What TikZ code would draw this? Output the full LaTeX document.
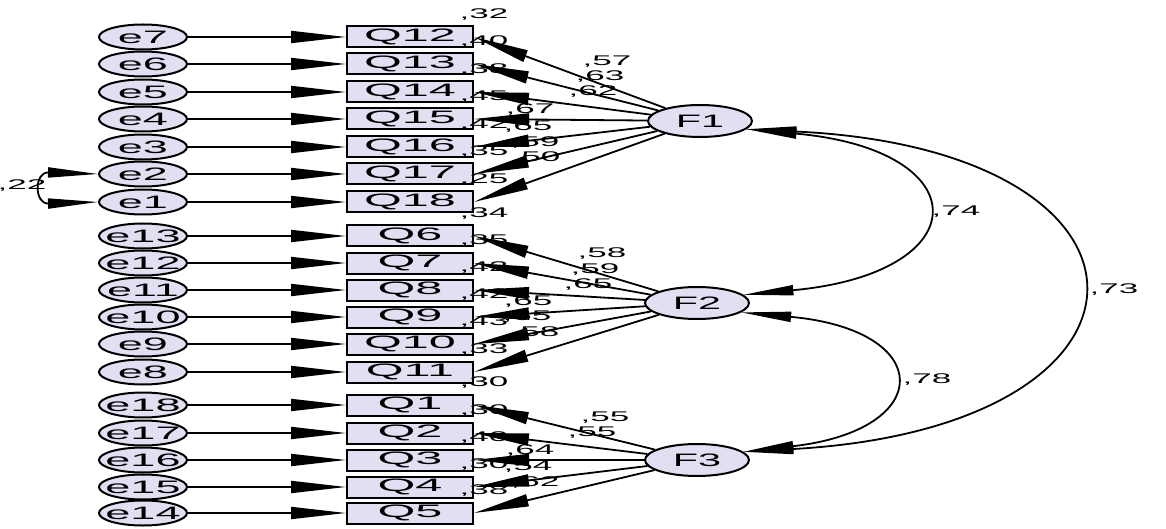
\documentclass[tikz,border=0pt]{standalone}
\usepackage{fontspec}
\setmainfont{Liberation Sans}
\newfontfamily\qfont[FakeStretch=2.7]{Liberation Sans}
\newfontfamily\efont[FakeStretch=2.5]{Liberation Sans}
\newfontfamily\ffont[FakeStretch=2.3]{Liberation Sans}
\newfontfamily\nfont[FakeStretch=2.5]{Liberation Sans}
\usetikzlibrary{arrows.meta,shapes.geometric,calc}
\definecolor{lav}{RGB}{228,222,242}
\begin{document}
\begin{tikzpicture}[x=1pt,y=-1pt,
  lat/.style={ellipse,draw,line width=2pt,fill=lav,minimum width=88pt,minimum height=25pt,inner sep=0pt,font=\efont\fontsize{18pt}{18pt}\selectfont},
  fac/.style={ellipse,draw,line width=2pt,fill=lav,minimum width=104pt,minimum height=32pt,inner sep=0pt,font=\ffont\fontsize{18pt}{18pt}\selectfont},
  obs/.style={rectangle,draw,line width=2pt,fill=lav,minimum width=126pt,minimum height=21pt,inner sep=0pt,font=\qfont\fontsize{18pt}{18pt}\selectfont},
  num/.style={inner sep=0pt,font=\nfont\fontsize{14pt}{14pt}\selectfont},
  arr/.style={line width=1.8pt,-{Triangle[length=55pt,width=12pt]}},
  cov/.style={line width=1.8pt,{Triangle[length=50pt,width=10pt]}-{Triangle[length=50pt,width=10pt]}}]
\useasboundingbox (0,0) rectangle (1166,529);
% observed and error nodes
\foreach \q/\e/\y in {12/7/37,13/6/64,14/5/92,15/4/119,16/3/147,17/2/174,18/1/202,
  6/13/236,7/12/263,8/11/290,9/10/317,10/9/344,11/8/372,
  1/18/405,2/17/433,3/16/460,4/15/487,5/14/513}{
  \node[obs] (Q\q) at (410,\y) {Q\q};
  \node[lat] (e\e) at (143,\y) {\makebox[0pt]{e\e}};
}
% factors
\node[fac] (F1) at (700,121) {F1};
\node[fac] (F2) at (697,303) {F2};
\node[fac] (F3) at (697,460) {F3};
% squared multiple correlations
\foreach \q/\v in {12/32,13/40,14/38,15/45,16/42,17/35,18/25,
  6/34,7/35,8/42,9/42,10/43,11/33,1/30,2/30,3/40,4/30,5/38}{
  \node[num] (r\q) at ([shift={(10,-11)}]Q\q.north east) {,\v};
}
% loadings labels
\node[num] (l12) at (607,62) {,57};
\node[num] (l13) at (600,77) {,63};
\node[num] (l14) at (593,92) {,62};
\node[num] (l15) at (530,110) {,67};
\node[num] (l16) at (528,127) {,65};
\node[num] (l17) at (535,143) {,59};
\node[num] (l18) at (536,158) {,50};
\node[num] (l6) at (602,254) {,58};
\node[num] (l7) at (595,270) {,59};
\node[num] (l8) at (588,285) {,65};
\node[num] (l9) at (528,302) {,65};
\node[num] (l10) at (527,317) {,65};
\node[num] (l11) at (535,333) {,58};
\node[num] (l1) at (605,418) {,55};
\node[num] (l2) at (592,433) {,55};
\node[num] (l3) at (530,451) {,64};
\node[num] (l4) at (528,467) {,54};
\node[num] (l5) at (535,483) {,62};
% covariance labels
\node[num] (c12) at (956,212) {,74};
\node[num] (c13) at (1114,290) {,73};
\node[num] (c23) at (927,380) {,78};
\node[num] (c21) at (22,186) {,22};
% error arrows
\foreach \q/\e in {12/7,13/6,14/5,15/4,16/3,17/2,18/1,6/13,7/12,8/11,9/10,10/9,11/8,1/18,2/17,3/16,4/15,5/14}{
  \draw[arr] (e\e) -- (Q\q);
}
% loading arrows
\foreach \q in {12,13,14,15,16,17,18}{\draw[arr] (F1) -- (Q\q.east);}
\foreach \q in {6,7,8,9,10,11}{\draw[arr] (F2) -- (Q\q.east);}
\foreach \q in {1,2,3,4,5}{\draw[arr] (F3) -- (Q\q.east);}
% covariances
\draw[cov] (F1.-10) .. controls (979,150) and (979,273) .. (F2.10);
\draw[cov] (F1.-10) .. controls (1185,150) and (1185,427) .. (F3.10);
\draw[cov] (F2.-12) .. controls (936,330) and (936,430) .. (F3.10);
\draw[cov] (e2.west) .. controls +(-64,-2) and +(-64,2) .. (e1.west);
\end{tikzpicture}
\end{document}
